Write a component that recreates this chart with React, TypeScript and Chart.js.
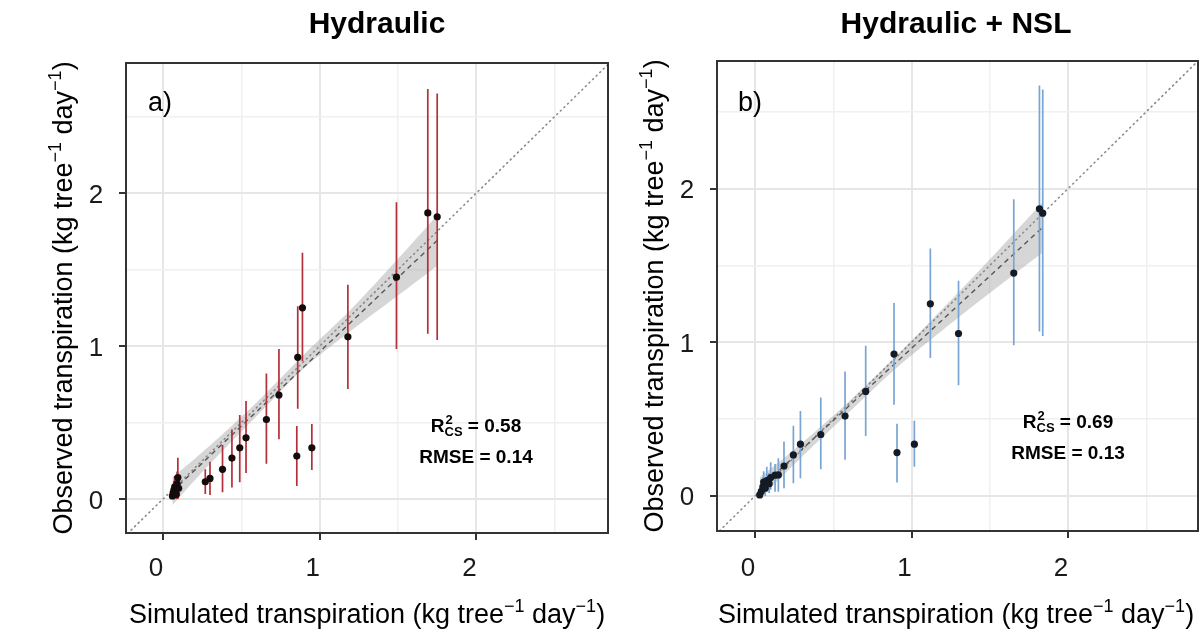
import React, { useEffect, useRef } from "react";
import { Chart, registerables } from "chart.js";
Chart.register(...registerables);

const FONT = '"Liberation Sans", Arial, sans-serif';

// ---- Panel a: Hydraulic ----
const SIM_A = [0.06, 0.065, 0.07, 0.075, 0.08, 0.085, 0.09, 0.095, 0.1, 0.27, 0.3, 0.38, 0.44, 0.49, 0.53, 0.66, 0.74, 0.86, 0.89, 0.854, 0.95, 1.18, 1.49, 1.69, 1.75];
const OBS_A = [0.02, 0.04, 0.06, 0.08, 0.05, 0.03, 0.1, 0.14, 0.07, 0.113, 0.135, 0.194, 0.268, 0.335, 0.4, 0.52, 0.68, 0.926, 1.25, 0.281, 0.335, 1.06, 1.45, 1.87, 1.845];
const LO_A = [0.0, 0.01, 0.02, 0.03, 0.01, 0.0, 0.04, 0.0, 0.02, 0.033, 0.026, 0.044, 0.076, 0.11, 0.17, 0.23, 0.39, 0.59, 0.9, 0.085, 0.19, 0.72, 0.98, 1.08, 1.04];
const HI_A = [0.06, 0.09, 0.12, 0.15, 0.1, 0.08, 0.18, 0.27, 0.13, 0.194, 0.244, 0.353, 0.455, 0.55, 0.64, 0.82, 0.98, 1.26, 1.61, 0.477, 0.49, 1.4, 1.94, 2.68, 2.65];
const BAND_X_A = [0.06, 0.3, 0.6, 0.9, 1.2, 1.5, 1.75];
const BAND_LO_A = [-0.04, 0.23, 0.545, 0.855, 1.1, 1.33, 1.525];
const BAND_HI_A = [0.14, 0.35, 0.635, 0.945, 1.24, 1.57, 1.855];
const FIT_X_A = [0.06, 1.75];
const FIT_Y_A = [0.05, 1.69];
const LIM_A = [-0.236, 2.84];

// ---- Panel b: Hydraulic + NSL ----
const SIM_B = [0.03, 0.04, 0.05, 0.055, 0.065, 0.075, 0.09, 0.1, 0.128, 0.149, 0.185, 0.245, 0.29, 0.42, 0.575, 0.707, 0.888, 1.12, 0.907, 1.018, 1.3, 1.653, 1.817, 1.838];
const OBS_B = [0.007, 0.03, 0.06, 0.09, 0.05, 0.1, 0.08, 0.12, 0.135, 0.137, 0.195, 0.267, 0.337, 0.4, 0.52, 0.68, 0.923, 1.25, 0.282, 0.337, 1.057, 1.45, 1.868, 1.84];
const LO_B = [0.0, 0.0, 0.01, 0.02, 0.0, 0.03, 0.02, 0.04, 0.028, 0.028, 0.05, 0.083, 0.115, 0.174, 0.235, 0.39, 0.593, 0.897, 0.087, 0.19, 0.72, 0.98, 1.07, 1.04];
const HI_B = [0.03, 0.07, 0.12, 0.16, 0.1, 0.19, 0.15, 0.22, 0.208, 0.245, 0.354, 0.456, 0.553, 0.64, 0.81, 0.977, 1.255, 1.61, 0.47, 0.49, 1.4, 1.93, 2.67, 2.645];
const BAND_X_B = [0.03, 0.3, 0.6, 0.9, 1.2, 1.5, 1.84];
const BAND_LO_B = [-0.02, 0.255, 0.545, 0.83, 1.08, 1.32, 1.585];
const BAND_HI_B = [0.12, 0.345, 0.615, 0.91, 1.22, 1.54, 1.915];
const FIT_X_B = [0.03, 1.84];
const FIT_Y_B = [0.05, 1.75];
const LIM_B = [-0.243, 2.83];
const LIM_BY = [-0.228, 2.83];
const LIM_AY = [-0.222, 2.85];

const GRID_TICKS = [0, 0.5, 1, 1.5, 2, 2.5];
const LABEL_TICKS = [0, 1, 2];
const DIAG = [-0.5, 3.2];

const TITLES = ["Hydraulic", "Hydraulic + NSL"];
const LETTERS = ["a)", "b)"];
const R2 = ["0.58", "0.69"];
const RMSE = ["0.14", "0.13"];

type Part = { t: string; sup?: boolean };
const X_TITLE: Part[] = [
  { t: "Simulated transpiration (kg tree" },
  { t: "\u22121", sup: true },
  { t: " day" },
  { t: "\u22121", sup: true },
  { t: ")" },
];
const Y_TITLE: Part[] = [
  { t: "Observed transpiration (kg tree" },
  { t: "\u22121", sup: true },
  { t: " day" },
  { t: "\u22121", sup: true },
  { t: ")" },
];

function drawRich(ctx: CanvasRenderingContext2D, parts: Part[], x: number, y: number, size: number) {
  const base = `${size}px ${FONT}`;
  const supF = `${Math.round(size * 0.68)}px ${FONT}`;
  let w = 0;
  for (const p of parts) {
    ctx.font = p.sup ? supF : base;
    w += ctx.measureText(p.t).width;
  }
  let cx = x - w / 2;
  ctx.textAlign = "left";
  ctx.textBaseline = "alphabetic";
  for (const p of parts) {
    ctx.font = p.sup ? supF : base;
    ctx.fillText(p.t, cx, p.sup ? y - size * 0.42 : y);
    cx += ctx.measureText(p.t).width;
  }
}

function drawR2(ctx: CanvasRenderingContext2D, val: string, cx: number, y: number) {
  const big = `bold 19px ${FONT}`;
  const small = `bold 13px ${FONT}`;
  ctx.font = big;
  const wR = ctx.measureText("R").width;
  const rest = " = " + val;
  const wRest = ctx.measureText(rest).width;
  ctx.font = small;
  const wS = Math.max(ctx.measureText("CS").width, ctx.measureText("2").width);
  const total = wR + wS + wRest;
  let x = cx - total / 2;
  ctx.textAlign = "left";
  ctx.textBaseline = "alphabetic";
  ctx.font = big;
  ctx.fillText("R", x, y);
  ctx.font = small;
  ctx.fillText("2", x + wR + 1, y - 8);
  ctx.fillText("CS", x + wR, y + 4);
  ctx.font = big;
  ctx.fillText(rest, x + wR + wS, y);
}

interface PanelCfg {
  idx: number;
  sim: number[]; obs: number[]; lo: number[]; hi: number[];
  bandX: number[]; bandLo: number[]; bandHi: number[];
  fitX: number[]; fitY: number[];
  xlim: number[]; ylim: number[];
  barColor: string; pointColor: string;
  padding: { left: number; right: number; top: number; bottom: number };
  titleX: number; letterX: number; annX: number; annY1: number; annY2: number;
  yTitleX: number; yLabelX: number; xTitleX: number;
}

const PANELS: PanelCfg[] = [
  {
    idx: 0, sim: SIM_A, obs: OBS_A, lo: LO_A, hi: HI_A,
    bandX: BAND_X_A, bandLo: BAND_LO_A, bandHi: BAND_HI_A,
    fitX: FIT_X_A, fitY: FIT_Y_A, xlim: LIM_A, ylim: LIM_AY,
    barColor: "#b3303b", pointColor: "#140c0c",
    padding: { left: 116, right: 595, top: 63, bottom: 89 },
    titleX: 377, letterX: 148, annX: 476, annY1: 432, annY2: 463,
    yTitleX: 72, yLabelX: 96, xTitleX: 367,
  },
  {
    idx: 1, sim: SIM_B, obs: OBS_B, lo: LO_B, hi: HI_B,
    bandX: BAND_X_B, bandLo: BAND_LO_B, bandHi: BAND_HI_B,
    fitX: FIT_X_B, fitY: FIT_Y_B, xlim: LIM_B, ylim: LIM_BY,
    barColor: "#79a5d4", pointColor: "#151b24",
    padding: { left: 707, right: 5, top: 61, bottom: 91 },
    titleX: 956, letterX: 738, annX: 1068, annY1: 428, annY2: 459,
    yTitleX: 663, yLabelX: 687, xTitleX: 956,
  },
];

function makeConfig(p: PanelCfg): any {
  const bars: any[] = [];
  p.sim.forEach((x, i) => {
    bars.push({ x, y: p.lo[i] }, { x, y: p.hi[i] }, { x, y: null });
  });
  const isMajor = (v: number) => LABEL_TICKS.includes(v);
  const axis = (lim: number[], position: string, horizontal: boolean) => ({
    type: "linear",
    position,
    min: lim[0],
    max: lim[1],
    afterBuildTicks: (s: any) => {
      s.ticks = GRID_TICKS.map((v) => ({ value: v }));
    },
    afterFit: (s: any) => {
      if (horizontal) s.height = 10;
      else s.width = 10;
    },
    ticks: { display: false },
    border: { display: false },
    grid: {
      color: (c: any) => (c.tick && isMajor(c.tick.value) ? "#e6e6e6" : "#f0f0f0"),
      lineWidth: (c: any) => (c.tick && isMajor(c.tick.value) ? 2 : 1.5),
      drawTicks: true,
      tickLength: 7,
      tickWidth: 2,
      tickColor: (c: any) => (c.tick && isMajor(c.tick.value) ? "#333333" : "rgba(0,0,0,0)"),
    },
  });

  const textPlugin = {
    id: "panelText" + p.idx,
    afterDraw(chart: any) {
      const ctx: CanvasRenderingContext2D = chart.ctx;
      const a = chart.chartArea;
      const xs = chart.scales.x;
      const ys = chart.scales.y;
      ctx.save();
      // panel border
      ctx.strokeStyle = "#333333";
      ctx.lineWidth = 2;
      ctx.strokeRect(a.left, a.top, a.right - a.left, a.bottom - a.top);
      // title
      ctx.fillStyle = "#000";
      ctx.font = `bold 30px ${FONT}`;
      ctx.textAlign = "center";
      ctx.textBaseline = "alphabetic";
      ctx.fillText(TITLES[p.idx], p.titleX, 33);
      // panel letter
      ctx.font = `27px ${FONT}`;
      ctx.textAlign = "left";
      ctx.fillText(LETTERS[p.idx], p.letterX, 111);
      // tick labels
      ctx.fillStyle = "#1a1a1a";
      ctx.font = `26px ${FONT}`;
      ctx.textAlign = "center";
      for (const v of LABEL_TICKS) {
        ctx.fillText(String(v), xs.getPixelForValue(v) - 7, 576);
        ctx.fillText(String(v), p.yLabelX, ys.getPixelForValue(v) + 9.5);
      }
      // axis titles
      ctx.fillStyle = "#000";
      drawRich(ctx, X_TITLE, p.xTitleX, 623, 27);
      ctx.save();
      ctx.translate(p.yTitleX, (a.top + a.bottom) / 2);
      ctx.rotate(-Math.PI / 2);
      drawRich(ctx, Y_TITLE, 0, 0, 27);
      ctx.restore();
      // annotation
      drawR2(ctx, R2[p.idx], p.annX, p.annY1);
      ctx.font = `bold 19px ${FONT}`;
      ctx.textAlign = "center";
      ctx.fillText("RMSE = " + RMSE[p.idx], p.annX, p.annY2);
      ctx.restore();
    },
  };

  return {
    type: "scatter",
    data: {
      datasets: [
        {
          type: "scatter",
          data: p.sim.map((x, i) => ({ x, y: p.obs[i] })),
          backgroundColor: p.pointColor,
          borderWidth: 0,
          pointRadius: 3.6,
          order: 0,
        },
        {
          type: "line",
          data: bars,
          borderColor: p.barColor,
          borderWidth: 1.7,
          pointRadius: 0,
          spanGaps: false,
          fill: false,
          order: 1,
        },
        {
          type: "line",
          data: p.fitX.map((x, i) => ({ x, y: p.fitY[i] })),
          borderColor: "#555555",
          borderWidth: 1.4,
          borderDash: [5, 4],
          pointRadius: 0,
          fill: false,
          order: 2,
        },
        {
          type: "line",
          data: DIAG.map((v) => ({ x: v, y: v })),
          borderColor: "#8a8a8a",
          borderWidth: 1.6,
          borderDash: [1, 4],
          borderCapStyle: "round",
          pointRadius: 0,
          fill: false,
          order: 3,
        },
        {
          type: "line",
          data: p.bandX.map((x, i) => ({ x, y: p.bandLo[i] })),
          borderWidth: 0,
          borderColor: "rgba(0,0,0,0)",
          pointRadius: 0,
          fill: false,
          tension: 0.3,
          order: 5,
        },
        {
          type: "line",
          data: p.bandX.map((x, i) => ({ x, y: p.bandHi[i] })),
          borderWidth: 0,
          borderColor: "rgba(0,0,0,0)",
          backgroundColor: "rgba(153,153,153,0.4)",
          pointRadius: 0,
          fill: "-1",
          tension: 0.3,
          order: 4,
        },
      ],
    },
    options: {
      responsive: false,
      animation: false,
      layout: { padding: p.padding },
      plugins: { legend: { display: false }, tooltip: { enabled: false }, title: { display: false } },
      scales: {
        x: axis(p.xlim, "bottom", true),
        y: axis(p.ylim, "left", false),
      },
    },
    plugins: [textPlugin],
  };
}

export default function App() {
  const refA = useRef<HTMLCanvasElement>(null);
  const refB = useRef<HTMLCanvasElement>(null);
  useEffect(() => {
    const a = new Chart(refA.current as HTMLCanvasElement, makeConfig(PANELS[0]));
    const b = new Chart(refB.current as HTMLCanvasElement, makeConfig(PANELS[1]));
    return () => {
      a.destroy();
      b.destroy();
    };
  }, []);
  return (
    <div style={{ position: "fixed", left: 0, top: 0, width: 1203, height: 632, background: "#fff" }}>
      <canvas ref={refA} width={1203} height={632} style={{ position: "absolute", left: 0, top: 0 }} />
      <canvas ref={refB} width={1203} height={632} style={{ position: "absolute", left: 0, top: 0 }} />
    </div>
  );
}
